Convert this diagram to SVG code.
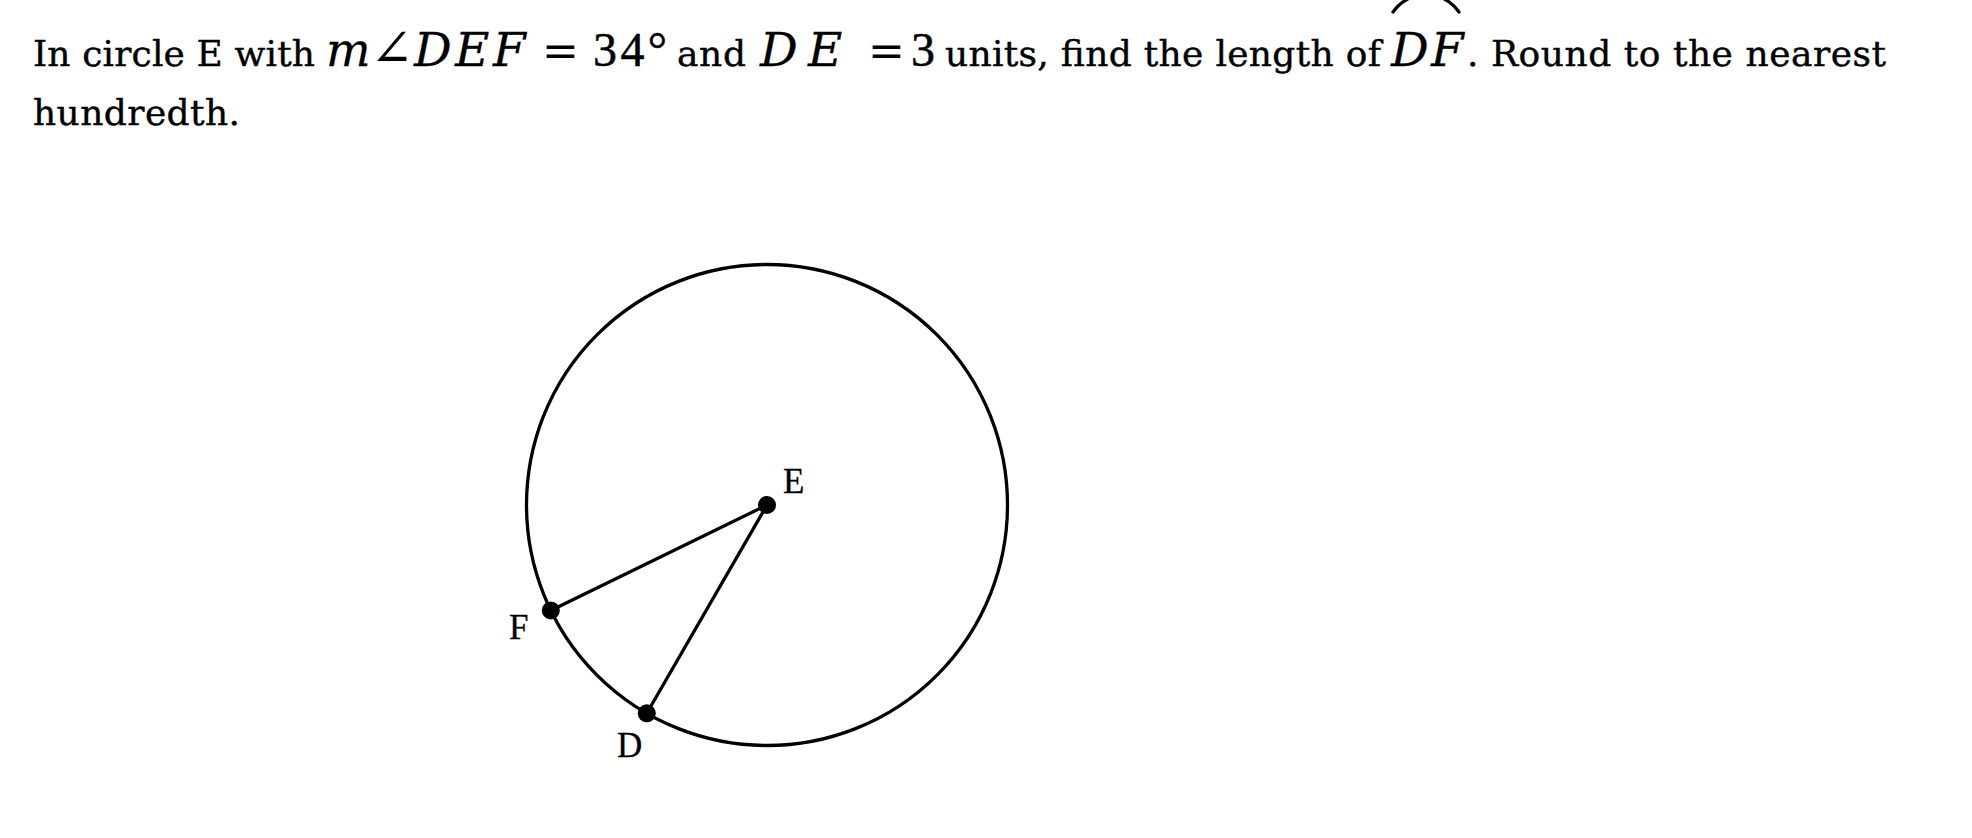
<svg xmlns="http://www.w3.org/2000/svg" width="1972" height="838" viewBox="0 0 1972 838">
<style>
.t{font-family:"DejaVu Serif",serif;font-size:36px;fill:#000;stroke:#000;stroke-width:0.4}
.mi{font-family:"DejaVu Serif",serif;font-style:italic;font-size:47px;fill:#000;stroke:#000;stroke-width:0.3}
.mu{font-family:"Liberation Serif",serif;font-size:48px;fill:#000;stroke:#000;stroke-width:0.5}
.ang{font-family:"DejaVu Serif","DejaVu Sans",serif;font-style:normal;font-size:52px;stroke-width:0}
.eq{font-family:"DejaVu Serif",serif;font-size:44px;fill:#000}
.lbl{font-family:"Liberation Serif",serif;font-size:35px;fill:#000;stroke:#000;stroke-width:0.3}
.ln{stroke:#000;stroke-width:3.3;fill:none;stroke-linecap:round}
.pt{fill:#000}
</style>
<rect width="1972" height="838" fill="#fff"/>
<g id="question">
<text class="t" x="33" y="66" textLength="282">In circle E with</text>
<text class="mi" y="66"><tspan x="326">m</tspan><tspan class="ang" x="370">∠</tspan><tspan x="414 455 493">DEF</tspan></text>
<text class="eq" x="542" y="66" textLength="37">=</text>
<text class="mu" x="593" y="66" textLength="74">34°</text>
<text class="t" x="677" y="66" textLength="69">and</text>
<text class="mi" x="760 808" y="66">DE</text>
<text class="eq" x="868" y="66" textLength="35">=</text>
<text class="mu" x="911" y="66">3</text>
<text class="t" x="945" y="66" textLength="436">units, find the length of</text>
<text class="mi" x="1391 1431" y="66">DF</text>
<path class="ln" d="M1393,12 A40,40 0 0 1 1459,12" stroke-width="2.4"/>
<text class="t" x="1467" y="66" textLength="419">. Round to the nearest</text>
<text class="t" x="33" y="125" textLength="207">hundredth.</text>
</g>
<g id="circle">
<circle class="ln" cx="767" cy="505" r="240.5"/>
</g>
<g id="connectors">
<line class="ln" x1="767" y1="505" x2="550.8" y2="610.4"/>
<line class="ln" x1="767" y1="505" x2="646.8" y2="713.3"/>
</g>
<g id="node-E">
<circle class="pt" cx="767" cy="505" r="9"/>
<text class="lbl" x="783" y="493">E</text>
</g>
<g id="node-F">
<circle class="pt" cx="550.8" cy="610.4" r="9"/>
<text class="lbl" x="509" y="639">F</text>
</g>
<g id="node-D">
<circle class="pt" cx="646.8" cy="713.3" r="9"/>
<text class="lbl" x="617" y="757">D</text>
</g>
</svg>
